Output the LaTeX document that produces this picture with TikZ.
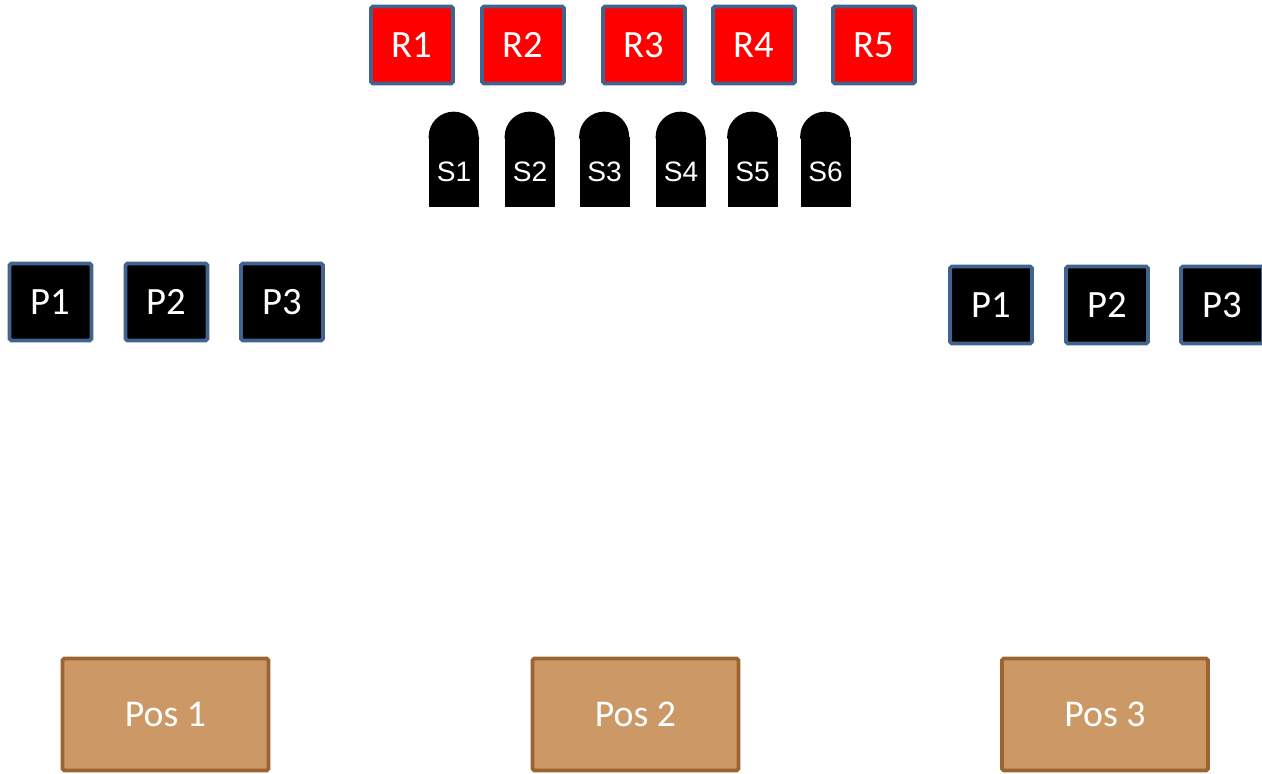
\documentclass[tikz,border=0pt]{standalone}
\usepackage{fontspec}
\usepackage{xcolor}
\usepackage{tikz}
\usetikzlibrary{positioning,calc}
\newfontfamily\calibri{Carlito}
\newfontfamily\arialfont{Liberation Sans}
\definecolor{EdgeBlue}{HTML}{41648F}
\definecolor{RobotRed}{HTML}{FF0000}
\definecolor{PosTan}{HTML}{CC9966}
\definecolor{PosBrown}{HTML}{9C6430}

\begin{document}
\begin{tikzpicture}[x=0.02cm, y=0.02cm,
          rbox/.style={draw=EdgeBlue, fill=RobotRed, line width=2.2pt, rounded corners=1pt,
            minimum width=1.64cm, minimum height=1.54cm, inner sep=0pt, text=white,
            font=\calibri\fontsize{22}{26}\selectfont},
          pbox/.style={rbox, fill=black},
          posbox/.style={draw=PosBrown, fill=PosTan, line width=2.2pt, rounded corners=1pt,
            minimum width=4.12cm, minimum height=2.24cm, inner sep=0pt, text=white,
            font=\calibri\fontsize{21.5}{25}\selectfont},
          sbox/.style={fill=black, minimum width=1cm, minimum height=1.4cm, inner sep=0pt,
            text=white, font=\arialfont\fontsize{16}{19}\selectfont},
          seattop/.style={fill=black}]
        \useasboundingbox (0,0) rectangle (1262,-774);
        \clip (0,0) rectangle (1262,-774);
        % top row
        \node[rbox] (r1) at (412,-45) {R1};
        \node[rbox] (r2) at (523,-45) {R2};
        \node[rbox] (r3) at (644,-45) {R3};
        \node[rbox] (r4) at (754,-45) {R4};
        \node[rbox] (r5) at (874,-45) {R5};
        % seats
        \node[sbox] (s1) at (454,-172) {S1};
        \node[sbox] (s2) at (530,-172) {S2};
        \node[sbox] (s3) at (604.5,-172) {S3};
        \node[sbox] (s4) at (681,-172) {S4};
        \node[sbox] (s5) at (752.5,-172) {S5};
        \node[sbox] (s6) at (825.5,-172) {S6};
        \fill[seattop] ($(s1.north west)+(0,-2)$) -- (s1.north west) arc[start angle=180, end angle=0, radius=25] -- ($(s1.north east)+(0,-2)$) -- cycle;
        \fill[seattop] ($(s2.north west)+(0,-2)$) -- (s2.north west) arc[start angle=180, end angle=0, radius=25] -- ($(s2.north east)+(0,-2)$) -- cycle;
        \fill[seattop] ($(s3.north west)+(0,-2)$) -- (s3.north west) arc[start angle=180, end angle=0, radius=25] -- ($(s3.north east)+(0,-2)$) -- cycle;
        \fill[seattop] ($(s4.north west)+(0,-2)$) -- (s4.north west) arc[start angle=180, end angle=0, radius=25] -- ($(s4.north east)+(0,-2)$) -- cycle;
        \fill[seattop] ($(s5.north west)+(0,-2)$) -- (s5.north west) arc[start angle=180, end angle=0, radius=25] -- ($(s5.north east)+(0,-2)$) -- cycle;
        \fill[seattop] ($(s6.north west)+(0,-2)$) -- (s6.north west) arc[start angle=180, end angle=0, radius=25] -- ($(s6.north east)+(0,-2)$) -- cycle;
        % left and right players
        \node[pbox] (lp1) at (50.5,-302) {P1};
        \node[pbox] (lp2) at (166.5,-302) {P2};
        \node[pbox] (lp3) at (282,-302) {P3};
        \node[pbox] (rp1) at (991,-305) {P1};
        \node[pbox] (rp2) at (1107,-305) {P2};
        \node[pbox] (rp3) at (1222,-305) {P3};
        % positions
        \node[posbox] (pos1) at (165.5,-714.5) {Pos 1};
        \node[posbox] (pos2) at (635.5,-714.5) {Pos 2};
        \node[posbox] (pos3) at (1105,-714.5) {Pos 3};
      \end{tikzpicture}
\end{document}
